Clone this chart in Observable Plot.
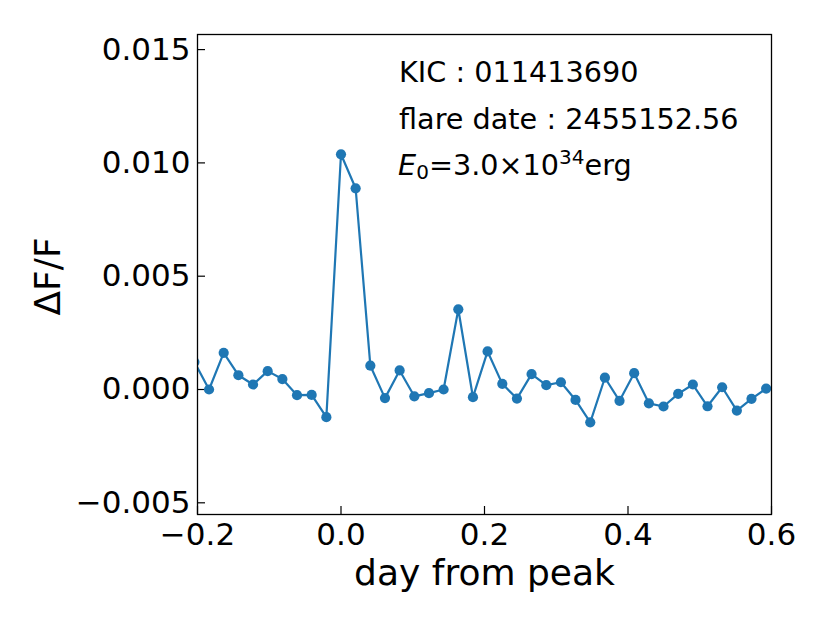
<!DOCTYPE html>
<html>
<head>
<meta charset="utf-8">
<script src="https://cdn.jsdelivr.net/npm/d3@7"></script>
<script src="https://cdn.jsdelivr.net/npm/@observablehq/plot@0.6"></script>
<style>
  html, body { margin: 0; padding: 0; background: #fff; }
  svg { display: block; }
</style>
</head>
<body>
<div id="chart"></div>
<script>
const days = [-0.2043, -0.1839, -0.1635, -0.1430, -0.1226, -0.1022, -0.0817, -0.0613, -0.0409, -0.0204,
  0.0000, 0.0204, 0.0409, 0.0613, 0.0817, 0.1022, 0.1226, 0.1430, 0.1635, 0.1839,
  0.2043, 0.2248, 0.2452, 0.2656, 0.2861, 0.3065, 0.3269, 0.3474, 0.3678, 0.3882,
  0.4086, 0.4291, 0.4495, 0.4699, 0.4904, 0.5108, 0.5312, 0.5517, 0.5721, 0.5925];
const flux = [0.00121, 0.00000, 0.00162, 0.00063, 0.00022, 0.00081, 0.00046, -0.00025, -0.00024, -0.00122,
  0.01038, 0.00888, 0.00105, -0.00038, 0.00084, -0.00030, -0.00016, 0.00000, 0.00354, -0.00034,
  0.00168, 0.00025, -0.00040, 0.00068, 0.00019, 0.00032, -0.00046, -0.00145, 0.00052, -0.00050,
  0.00072, -0.00061, -0.00075, -0.00019, 0.00022, -0.00074, 0.00010, -0.00093, -0.00041, 0.00004];
const xTicks = [-0.2, 0.0, 0.2, 0.4, 0.6];
const yTicks = [-0.005, 0.000, 0.005, 0.010, 0.015];
const xDomain = [-0.2, 0.6];
const yDomain = [-0.005516, 0.015666];
const annotation = ["KIC : 011413690", "flare date : 2455152.56"];

const data = days.map((d, i) => ({day: d, flux: flux[i]}));
const minus = s => s.replace("-", "\u2212");
const color = "#1f77b4";
const font = "DejaVu Sans, sans-serif";

function annotationMark() {
  return (index, scales, values, dims, context) => {
    const g = d3.create("svg:g")
      .attr("font-family", font)
      .attr("font-size", 28.7)
      .attr("text-anchor", "start")
      .attr("fill", "black");
    const x0 = dims.marginLeft + 202;
    const base = dims.marginTop + 48;
    const step = 46.5;
    annotation.forEach((t, i) => {
      g.append("text").attr("x", x0).attr("y", base + i * step).text(t);
    });
    const t3 = g.append("text").attr("x", x0 - 1).attr("y", base + 2 * step);
    t3.append("tspan").attr("font-style", "italic").text("E");
    t3.append("tspan").attr("font-size", 20).attr("dy", 4).text("0");
    t3.append("tspan").attr("dy", -4).text("=3.0\u00d710");
    t3.append("tspan").attr("font-size", 20).attr("dy", -11).text("34");
    t3.append("tspan").attr("dy", 11).text("erg");
    return g.node();
  };
}

const plot = Plot.plot({
  width: 830,
  height: 623,
  marginLeft: 197,
  marginRight: 59,
  marginTop: 34,
  marginBottom: 109,
  style: {fontFamily: font, fontSize: "31px", color: "black", background: "white"},
  x: {domain: xDomain, ticks: xTicks, tickFormat: d => minus(d3.format(".1f")(d))},
  y: {domain: yDomain, ticks: yTicks, tickFormat: d => minus(d3.format(".3f")(d))},
  marks: [
    Plot.axisX({ticks: xTicks, tickFormat: d => minus(d3.format(".1f")(d)), tickSize: -8, tickPadding: 16, fontSize: 31, label: null, strokeWidth: 1.2}),
    Plot.axisY({ticks: yTicks, tickFormat: d => minus(d3.format(".3f")(d)), tickSize: -8, tickPadding: 15, fontSize: 31, label: null, strokeWidth: 1.2}),
    Plot.line(data, {x: "day", y: "flux", stroke: color, strokeWidth: 2.2, clip: true}),
    Plot.dot(data, {x: "day", y: "flux", fill: color, r: 5.1, clip: true}),
    Plot.frame({stroke: "black", strokeWidth: 1.3}),
    Plot.text(["day from peak"], {frameAnchor: "bottom", dy: 70, fontSize: 36, lineAnchor: "bottom", text: d => d}),
    Plot.text(["\u0394F/F"], {frameAnchor: "left", textAnchor: "middle", dx: -149, dy: 2, rotate: -90, fontSize: 36, text: d => d}),
    annotationMark()
  ]
});
document.getElementById("chart").appendChild(plot);
</script>
</body>
</html>
